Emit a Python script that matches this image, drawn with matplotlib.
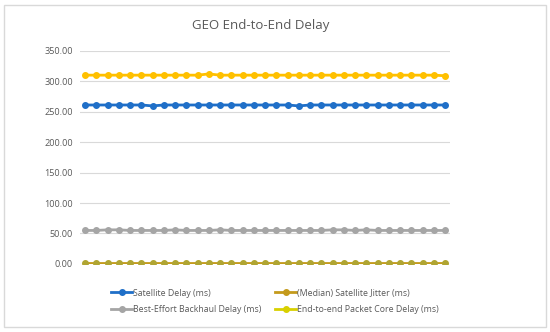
import matplotlib
matplotlib.use("Agg")
import matplotlib.pyplot as plt
from matplotlib.lines import Line2D
from matplotlib.patches import Rectangle
import numpy as np

# values (ms), 33 samples
sat_delay = [261, 261, 261, 261, 261, 261, 259.5, 261, 261, 261, 261, 261, 261, 261, 261, 261, 261,
             261, 261, 259.5, 261, 261, 261, 261, 261, 261, 261, 261, 261, 261, 261, 261, 261]
jitter = [1.5] * 33
backhaul = [55, 55, 56, 56, 55, 55, 55, 55, 56, 55, 55, 55, 56, 55, 55, 55, 55,
            55, 55, 55, 55, 55, 56, 56, 55, 56, 55, 55, 55, 55, 55, 55, 55]
e2e = [310, 310, 310, 310, 310, 310, 310, 310, 310, 310, 310, 312, 310, 310, 310, 310, 310,
       310, 310, 310, 310, 310, 310, 310, 310, 310, 310, 310, 310, 310, 310, 310, 309]

labels = ["Satellite Delay (ms)", "Best-Effort Backhaul Delay (ms)",
          "(Median) Satellite Jitter (ms)", "End-to-end Packet Core Delay (ms)"]

plt.rcParams['font.family'] = ['Open Sans', 'DejaVu Sans']

fig = plt.figure(figsize=(5.5, 3.32), dpi=100)
fig.patches.append(Rectangle((0.008, 0.015), 0.984, 0.97, transform=fig.transFigure,
                             fill=False, edgecolor="#d9d9d9", linewidth=1))
ax = fig.add_axes([0.1455, 0.205, 0.673, 0.642])

x = np.arange(len(sat_delay))
kw = dict(linewidth=2, marker='o', markersize=4)
ax.plot(x, e2e, color="#ffc000", **kw)
ax.plot(x, sat_delay, color="#1f6fc8", **kw)
ax.plot(x, backhaul, color="#a5a5a5", **kw)
ax.plot(x, jitter, color="#c49a1c", markerfacecolor="#b0a532", markeredgecolor="#b0a532", **kw)

ax.set_xlim(-0.45, len(x) - 0.55)
ax.set_ylim(0, 350)
ax.set_yticks(np.arange(0, 351, 50))
ax.set_yticklabels([f"{v:.2f}" for v in np.arange(0, 351, 50)])
ax.set_xticks([])
ax.grid(axis='y', color="#d9d9d9", linewidth=0.8)
ax.set_axisbelow(True)
for s in ax.spines.values():
    s.set_visible(False)
ax.tick_params(axis='y', length=0, labelsize=6.6, labelcolor="#595959", pad=5)

fig.text(0.474, 0.922, "GEO End-to-End Delay", ha='center', va='center',
         fontsize=9.5, color="#595959")

handles = [
    Line2D([], [], color="#1f6fc8", linewidth=2, marker='o', markersize=4),
    Line2D([], [], color="#a5a5a5", linewidth=2, marker='o', markersize=4),
    Line2D([], [], color="#c49a1c", linewidth=2, marker='o', markersize=4),
    Line2D([], [], color="#d8d000", linewidth=2, marker='o', markersize=4),
]
fig.legend(handles, labels, ncol=2, loc='center', bbox_to_anchor=(0.5, 0.092),
           frameon=False, fontsize=6.3, labelcolor="#595959", handlelength=2.4,
           handletextpad=0.1, columnspacing=1.6, labelspacing=0.9)

fig.savefig("out.png", dpi=100)
